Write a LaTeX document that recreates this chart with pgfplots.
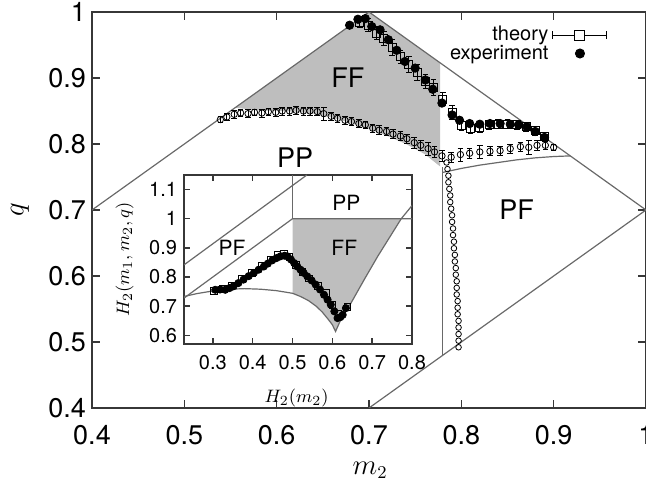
\documentclass[border=0pt]{standalone}
\usepackage{fontspec}
\setmainfont{TeX Gyre Heros}
\usepackage{pgfplots}
\pgfplotsset{compat=1.18}

\definecolor{ffgray}{RGB}{190,190,190}
\definecolor{lgray}{RGB}{105,105,105}
\definecolor{axgray}{RGB}{55,55,55}

\begin{document}
\begin{tikzpicture}
\begin{axis}[
  at={(0,0)}, anchor=south west, scale only axis,
  width=277pt, height=198pt,
  xmin=0.4, xmax=1, ymin=0.4, ymax=1,
  xtick={0.4,0.5,0.6,0.7,0.8,0.9,1}, ytick={0.4,0.5,0.6,0.7,0.8,0.9,1},
  tick align=inside, major tick length=4pt,
  axis line style={axgray, line width=0.8pt},
  tick style={axgray, line width=0.7pt},
  /pgf/number format/assume math mode=true,
  ticklabel style={font=\fontsize{13.5}{14}\selectfont},
  yticklabel style={xshift=0.5pt},
  xticklabel style={yshift=-5pt},
  xlabel={$m_2$}, ylabel={$q$},
  label style={font=\fontsize{13.5}{14}\selectfont},
  xlabel style={at={(axis description cs:0.502,-0.158)}, anchor=center},
  ylabel style={at={(axis description cs:-0.13,0.5)}, anchor=center},
  legend style={at={(axis description cs:0.942,0.985)}, anchor=north east,
    draw=none, fill=none, font=\fontsize{10}{11}\selectfont, row sep=-3.5pt},
  legend plot pos=right, legend cell align=right,
  error bars/error bar style={line width=0.4pt, black},
  error bars/error mark options={rotate=90, mark size=1.4pt, line width=0.4pt},
]
% FF region (shaded)
\addplot[fill=ffgray, draw=none, forget plot] coordinates {
  (0.555,0.855) (0.7,1.0) (0.777,0.923) (0.777,0.766) (0.76,0.785) (0.74,0.800)
  (0.72,0.812) (0.70,0.823) (0.68,0.832) (0.66,0.840) (0.64,0.846) (0.62,0.849)
  (0.60,0.850) (0.58,0.851) (0.555,0.855)};
% phase boundaries
\addplot[lgray, line width=0.6pt, forget plot] coordinates {(0.4,0.7) (0.7,1.0) (1.0,0.7)};
\addplot[lgray, line width=0.6pt, forget plot] coordinates {(0.7,0.4) (1.0,0.7)};
\addplot[lgray, line width=0.6pt, forget plot] coordinates {(0.78,0.48) (0.78,0.765)};
\addplot[lgray, line width=0.6pt, forget plot] coordinates {
  (0.780,0.757) (0.80,0.763) (0.82,0.768) (0.84,0.772) (0.86,0.776) (0.88,0.779) (0.90,0.781) (0.918,0.782)};
% open circles with error bars
\addplot[only marks, mark=o, mark size=1.6pt, mark options={black, line width=0.4pt}, forget plot,
  error bars/.cd, y dir=both, y explicit] coordinates {
  (0.539,0.837) +- (0,0.005) (0.546,0.841) +- (0,0.005) (0.554,0.845) +- (0,0.006)
  (0.561,0.847) +- (0,0.005) (0.569,0.846) +- (0,0.006) (0.576,0.848) +- (0,0.005)
  (0.584,0.847) +- (0,0.006) (0.591,0.849) +- (0,0.005) (0.599,0.848) +- (0,0.006)
  (0.606,0.850) +- (0,0.006) (0.614,0.850) +- (0,0.006) (0.621,0.851) +- (0,0.006)
  (0.629,0.850) +- (0,0.006) (0.636,0.850) +- (0,0.006) (0.644,0.849) +- (0,0.006)
  (0.651,0.846) +- (0,0.010) (0.659,0.842) +- (0,0.006) (0.666,0.839) +- (0,0.006)
  (0.674,0.836) +- (0,0.006) (0.681,0.834) +- (0,0.006) (0.689,0.831) +- (0,0.006)
  (0.696,0.829) +- (0,0.006) (0.704,0.824) +- (0,0.006) (0.711,0.821) +- (0,0.007)
  (0.719,0.819) +- (0,0.006) (0.726,0.815) +- (0,0.007) (0.734,0.812) +- (0,0.007)
  (0.741,0.808) +- (0,0.007) (0.749,0.802) +- (0,0.008) (0.756,0.798) +- (0,0.008)
  (0.764,0.793) +- (0,0.010) (0.771,0.788) +- (0,0.008) (0.779,0.782) +- (0,0.008)
  (0.789,0.780) +- (0,0.008) (0.799,0.784) +- (0,0.010) (0.809,0.786) +- (0,0.008)
  (0.820,0.788) +- (0,0.010) (0.831,0.789) +- (0,0.007) (0.842,0.790) +- (0,0.007)
  (0.853,0.793) +- (0,0.007) (0.864,0.796) +- (0,0.007) (0.873,0.795) +- (0,0.010)
  (0.882,0.798) +- (0,0.007) (0.891,0.798) +- (0,0.006) (0.900,0.795) +- (0,0.005)};
% vertical column of circles
\addplot[only marks, mark=o, mark size=1.4pt, mark options={black, line width=0.4pt}, forget plot] coordinates {
  (0.784,0.772) (0.785,0.762) (0.786,0.752) (0.786,0.742) (0.787,0.732) (0.788,0.722)
  (0.788,0.712) (0.789,0.702) (0.790,0.692) (0.790,0.682) (0.791,0.672) (0.791,0.662)
  (0.792,0.652) (0.792,0.642) (0.793,0.632) (0.793,0.622) (0.794,0.612) (0.794,0.602)
  (0.795,0.592) (0.795,0.582) (0.795,0.572) (0.796,0.562) (0.796,0.552) (0.796,0.542)
  (0.797,0.532) (0.797,0.522) (0.797,0.512) (0.797,0.502) (0.797,0.492)};
% theory
\addplot[only marks, mark=square, mark size=2pt, mark options={black, line width=0.4pt},
  legend image code/.code={
    \draw[line width=0.5pt] (0pt,0pt) -- (27pt,0pt);
    \draw[line width=0.5pt] (0pt,-2pt) -- (0pt,2pt);
    \draw[line width=0.5pt] (27pt,-2pt) -- (27pt,2pt);
    \draw[line width=0.5pt, fill=white] (11pt,-2.5pt) rectangle (16pt,2.5pt);},
  error bars/.cd, y dir=both, y explicit] coordinates {
  (0.690,0.985) +- (0,0.008) (0.699,0.980) +- (0,0.010) (0.708,0.968) +- (0,0.010)
  (0.716,0.960) +- (0,0.010) (0.725,0.946) +- (0,0.012) (0.734,0.932) +- (0,0.010)
  (0.743,0.920) +- (0,0.012) (0.752,0.908) +- (0,0.012) (0.761,0.895) +- (0,0.010)
  (0.770,0.886) +- (0,0.012) (0.780,0.868) +- (0,0.010) (0.790,0.848) +- (0,0.010)
  (0.800,0.828) +- (0,0.008) (0.810,0.824) +- (0,0.008) (0.820,0.825) +- (0,0.008)
  (0.830,0.829) +- (0,0.007) (0.840,0.830) +- (0,0.007) (0.850,0.830) +- (0,0.007)
  (0.860,0.829) +- (0,0.007) (0.870,0.826) +- (0,0.007) (0.880,0.820) +- (0,0.007)
  (0.890,0.811) +- (0,0.007)};
\addlegendentry{theory}
% experiment
\addplot[only marks, mark=*, mark size=2.1pt, mark options={black},
  legend image code/.code={\fill (13.5pt,0pt) circle (2.3pt);}] coordinates {
  (0.679,0.980) (0.688,0.989) (0.696,0.990) (0.703,0.978) (0.712,0.973) (0.721,0.958)
  (0.730,0.942) (0.739,0.925) (0.750,0.915) (0.761,0.897) (0.769,0.883) (0.779,0.862)
  (0.790,0.844) (0.798,0.836) (0.809,0.831) (0.820,0.830) (0.831,0.831) (0.842,0.831)
  (0.853,0.830) (0.862,0.829) (0.871,0.826) (0.880,0.819) (0.890,0.810)};
\addlegendentry{experiment}
\node[font=\fontsize{13.5}{14}\selectfont] at (axis cs:0.677,0.9) {FF};
\node[font=\fontsize{13.5}{14}\selectfont] at (axis cs:0.62,0.78) {PP};
\node[font=\fontsize{13.5}{14}\selectfont] at (axis cs:0.86,0.70) {PF};
\end{axis}

% inset
\begin{axis}[
  at={(46pt,32pt)}, anchor=south west, scale only axis,
  width=114pt, height=84.5pt,
  xmin=0.2275, xmax=0.8, ymin=0.57, ymax=1.15,
  xtick={0.3,0.4,0.5,0.6,0.7,0.8}, ytick={0.6,0.7,0.8,0.9,1,1.1},
  axis background/.style={fill=white},
  tick align=inside, major tick length=3pt,
  axis line style={axgray, line width=0.8pt},
  tick style={axgray, line width=0.7pt},
  /pgf/number format/assume math mode=true,
  ticklabel style={font=\fontsize{10}{11}\selectfont},
  yticklabel style={xshift=0pt},
  xticklabel style={yshift=-2pt},
  xlabel={$H_2(m_2)$}, ylabel={$H_2(m_1,m_2,q)$},
  label style={font=\fontsize{9.5}{10}\selectfont},
  xlabel style={at={(axis description cs:0.494,-0.32)}, anchor=center},
  ylabel style={at={(axis description cs:-0.26,0.5)}, anchor=center},
]
\addplot[fill=ffgray, draw=none] coordinates {
  (0.5,0.744) (0.5,1.0) (0.773,1.0) (0.714,0.871) (0.68,0.791) (0.647,0.711)
  (0.621,0.653) (0.608,0.613) (0.60,0.636) (0.59,0.654) (0.575,0.679) (0.56,0.699)
  (0.54,0.719) (0.52,0.733) (0.5,0.744)};
\addplot[lgray, line width=0.6pt] coordinates {(0.2275,0.8415) (0.536,1.15)};
\addplot[lgray, line width=0.6pt] coordinates {(0.2275,0.7275) (0.5,1.0) (0.8,1.0)};
\addplot[lgray, line width=0.6pt] coordinates {(0.5,1.0) (0.5,1.15)};
\addplot[lgray, line width=0.6pt] coordinates {
  (0.2275,0.733) (0.26,0.743) (0.30,0.752) (0.34,0.758) (0.38,0.760) (0.42,0.758)
  (0.46,0.753) (0.50,0.744) (0.52,0.733) (0.54,0.719) (0.56,0.699) (0.575,0.679)
  (0.59,0.654) (0.60,0.636) (0.608,0.613) (0.621,0.653) (0.647,0.711) (0.68,0.791)
  (0.714,0.871) (0.773,1.0) (0.8,1.045)};
\addplot[only marks, mark=square, mark size=1.7pt, mark options={black, line width=0.4pt}] coordinates {
  (0.302,0.752) (0.325,0.758) (0.348,0.771) (0.372,0.793) (0.397,0.815) (0.422,0.838)
  (0.445,0.860) (0.462,0.875) (0.478,0.880) (0.492,0.868) (0.508,0.842) (0.525,0.818)
  (0.542,0.795) (0.563,0.770) (0.584,0.745) (0.600,0.705) (0.615,0.672) (0.638,0.698)};
\addplot[only marks, mark=*, mark size=1.8pt, mark options={black}] coordinates {
  (0.306,0.756) (0.318,0.757) (0.331,0.756) (0.342,0.762) (0.352,0.768) (0.364,0.779)
  (0.377,0.791) (0.390,0.803) (0.403,0.814) (0.415,0.825) (0.428,0.836) (0.438,0.846)
  (0.449,0.857) (0.460,0.865) (0.470,0.871) (0.480,0.873) (0.487,0.871) (0.496,0.860)
  (0.504,0.848) (0.512,0.836) (0.520,0.825) (0.528,0.814) (0.537,0.802) (0.548,0.788)
  (0.558,0.774) (0.569,0.757) (0.579,0.739) (0.588,0.722) (0.596,0.705) (0.605,0.682)
  (0.613,0.659) (0.620,0.662) (0.626,0.670) (0.634,0.693)};
\node[font=\fontsize{10.5}{11}\selectfont] at (axis cs:0.635,1.054) {PP};
\node[font=\fontsize{10.5}{11}\selectfont] at (axis cs:0.63,0.9) {FF};
\node[font=\fontsize{10.5}{11}\selectfont] at (axis cs:0.348,0.9) {PF};
\end{axis}
\pgfresetboundingbox
\path[use as bounding box] (-46pt,-36pt) rectangle (277pt,204pt);
\end{tikzpicture}
\end{document}
